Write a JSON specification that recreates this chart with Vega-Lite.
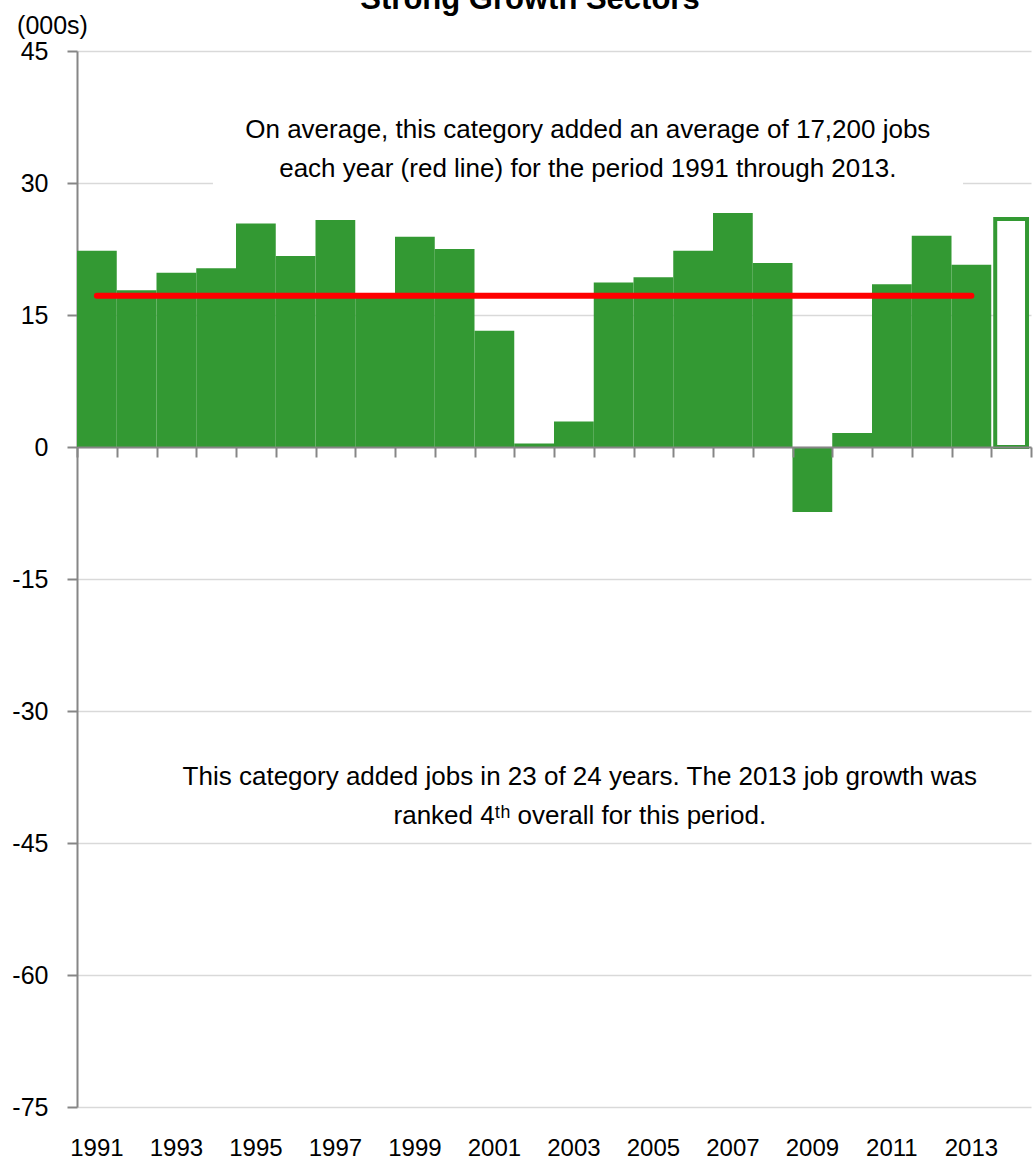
{
  "$schema": "https://vega.github.io/schema/vega-lite/v6.json",
  "width": 954,
  "height": 1056,
  "autosize": "none",
  "padding": {"left": 77, "top": 51, "right": 4, "bottom": 52},
  "background": "white",
  "config": {
    "view": {"stroke": null},
    "font": "Liberation Sans",
    "axis": {"labelFont": "Liberation Sans", "titleFont": "Liberation Sans", "labelColor": "#000000", "titleColor": "#000000"}
  },
  "title": {
    "text": "Strong Growth Sectors",
    "font": "Liberation Sans",
    "fontWeight": "bold",
    "fontSize": 31,
    "color": "#000000",
    "anchor": "middle",
    "frame": "group",
    "baseline": "alphabetic",
    "offset": 0,
    "dx": -24,
    "dy": 27
  },
  "datasets": {
    "jobs": [
      {"year": 1991, "jobs": 22.3, "status": "actual"},
      {"year": 1992, "jobs": 17.8, "status": "actual"},
      {"year": 1993, "jobs": 19.8, "status": "actual"},
      {"year": 1994, "jobs": 20.3, "status": "actual"},
      {"year": 1995, "jobs": 25.4, "status": "actual"},
      {"year": 1996, "jobs": 21.7, "status": "actual"},
      {"year": 1997, "jobs": 25.8, "status": "actual"},
      {"year": 1998, "jobs": 17.5, "status": "actual"},
      {"year": 1999, "jobs": 23.9, "status": "actual"},
      {"year": 2000, "jobs": 22.5, "status": "actual"},
      {"year": 2001, "jobs": 13.2, "status": "actual"},
      {"year": 2002, "jobs": 0.4, "status": "actual"},
      {"year": 2003, "jobs": 2.9, "status": "actual"},
      {"year": 2004, "jobs": 18.7, "status": "actual"},
      {"year": 2005, "jobs": 19.3, "status": "actual"},
      {"year": 2006, "jobs": 22.3, "status": "actual"},
      {"year": 2007, "jobs": 26.6, "status": "actual"},
      {"year": 2008, "jobs": 20.9, "status": "actual"},
      {"year": 2009, "jobs": -7.4, "status": "actual"},
      {"year": 2010, "jobs": 1.6, "status": "actual"},
      {"year": 2011, "jobs": 18.5, "status": "actual"},
      {"year": 2012, "jobs": 24.0, "status": "actual"},
      {"year": 2013, "jobs": 20.7, "status": "actual"},
      {"year": 2014, "jobs": 25.9, "status": "outline"}
    ],
    "avg": [
      {"year": 1991, "avg": 17.2},
      {"year": 2013, "avg": 17.2}
    ],
    "notes": [
      {"pos": 2003.35, "level": 36.05, "text": ["On average, this category added an average of 17,200 jobs", "each year (red line) for the period 1991 through 2013."]},
      {"pos": 2003.15, "level": -37.53, "text": ["This category added jobs in 23 of 24 years. The 2013 job growth was", "ranked 4ᵗʰ overall for this period."]}
    ],
    "box": [
      {"x1": 1993.92, "x2": 2012.79, "y1": 29.6, "y2": 43.5}
    ]
  },
  "resolve": {"scale": {"x": "independent"}},
  "layer": [
    {
      "data": {"name": "box"},
      "mark": {"type": "rect", "fill": "#ffffff", "stroke": null},
      "encoding": {
        "x": {"field": "x1", "type": "quantitative", "scale": {"domain": [1990.5, 2014.5], "nice": false, "zero": false}, "axis": null},
        "x2": {"field": "x2"},
        "y": {"field": "y1", "type": "quantitative"},
        "y2": {"field": "y2"}
      }
    },
    {
      "resolve": {"scale": {"x": "shared"}, "axis": {"x": "independent"}},
      "layer": [
        {
          "data": {"name": "jobs"},
          "transform": [{"filter": "datum.status === 'actual'"}],
          "mark": {"type": "bar", "fill": "#339933"},
          "encoding": {
            "x": {
              "field": "year", "type": "ordinal",
              "scale": {"domain": [1991,1992,1993,1994,1995,1996,1997,1998,1999,2000,2001,2002,2003,2004,2005,2006,2007,2008,2009,2010,2011,2012,2013,2014], "paddingInner": 0, "paddingOuter": 0},
              "axis": {
                "orient": "bottom", "title": null, "domain": false, "ticks": false, "tickSize": 0, "grid": false,
                "values": [1991,1993,1995,1997,1999,2001,2003,2005,2007,2009,2011,2013],
                "labelAngle": 0, "labelFontSize": 24, "labelBaseline": "alphabetic", "labelPadding": 48
              }
            },
            "y": {
              "field": "jobs", "type": "quantitative",
              "scale": {"domain": [-75, 45], "nice": false, "zero": false},
              "axis": {
                "values": [-75,-60,-45,-30,-15,0,15,30,45],
                "labelExpr": "replace(datum.label, '−', '-')",
                "grid": true, "gridColor": "#d9d9d9", "gridWidth": 1.5,
                "domainColor": "#868686", "domainWidth": 2,
                "tickColor": "#868686", "tickWidth": 2, "tickSize": 10,
                "labelFontSize": 25, "labelPadding": 19,
                "title": "(000s)", "titleAngle": 0, "titleFontSize": 25, "titleFontWeight": "normal",
                "titleAlign": "center", "titleBaseline": "alphabetic", "titleX": -25, "titleY": -18
              }
            }
          }
        },
        {
          "data": {"name": "jobs"},
          "transform": [{"filter": "datum.status === 'outline'"}],
          "mark": {"type": "bar", "fill": "#ffffff", "stroke": "#339933", "strokeWidth": 4, "width": {"band": 0.8}},
          "encoding": {
            "x": {"field": "year", "type": "ordinal", "axis": null},
            "y": {"field": "jobs", "type": "quantitative"}
          }
        },
        {
          "data": {"name": "avg"},
          "mark": {"type": "line", "color": "#ff0000", "strokeWidth": 6, "strokeCap": "round"},
          "encoding": {
            "x": {
              "field": "year", "type": "ordinal",
              "axis": {
                "orient": "bottom", "offset": -660, "title": null, "labels": false, "grid": false,
                "domain": true, "domainColor": "#868686", "domainWidth": 2,
                "ticks": true, "tickBand": "extent", "tickColor": "#868686", "tickWidth": 2, "tickSize": 10,
                "zindex": 1
              }
            },
            "y": {"field": "avg", "type": "quantitative"}
          }
        }
      ]
    },
    {
      "data": {"name": "notes"},
      "mark": {"type": "text", "font": "Liberation Sans", "fontSize": 26, "color": "#000000", "align": "center", "baseline": "middle", "lineHeight": 39},
      "encoding": {
        "x": {"field": "pos", "type": "quantitative", "scale": {"domain": [1990.5, 2014.5], "nice": false, "zero": false}, "axis": null},
        "y": {"field": "level", "type": "quantitative"},
        "text": {"field": "text"}
      }
    }
  ]
}
